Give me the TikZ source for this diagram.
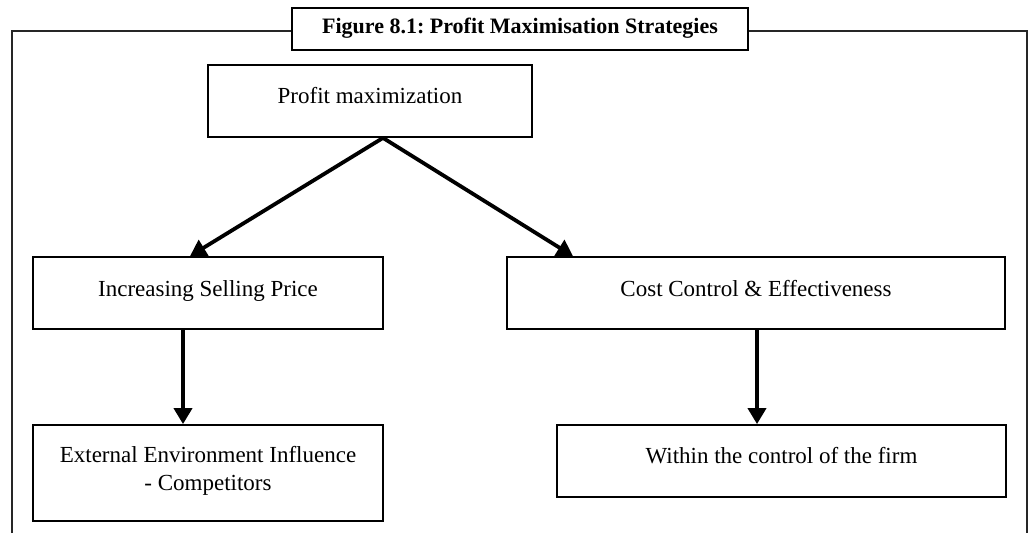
\documentclass[tikz,border=0pt]{standalone}
\usepackage{fontspec}
\setmainfont{Liberation Serif}
\usetikzlibrary{arrows.meta}
\frenchspacing
\begin{document}
\begin{tikzpicture}[x=1pt,y=-1pt,
  box/.style={draw=black, line width=1.8pt, fill=white, inner sep=0pt},
  txt/.style={font=\fontsize{23}{28}\selectfont, inner sep=0pt, align=center},
  arr/.style={line width=3.8pt, -{Triangle[length=16pt,width=18pt]}},
  frame/.style={line width=2pt, draw=black!85}]
\useasboundingbox (0,0) rectangle (1030,533);
\draw[frame] (12,533) -- (12,31) -- (1027,31) -- (1027,533);
\node[box, minimum width=456pt, minimum height=42pt] (title) at (520,29) {};
\node[txt, font=\bfseries\fontsize{22}{26}\selectfont, anchor=base] (titlet) at (520,33) {Figure 8.1: Profit Maximisation Strategies};
\node[box, minimum width=324pt, minimum height=72pt] (prof) at (370,101) {};
\node[txt, anchor=base] (proft) at (370,103) {Profit maximization};
\node[box, minimum width=350pt, minimum height=72pt] (inc) at (208,293) {};
\node[txt, anchor=base] (inct) at (208,296) {Increasing Selling Price};
\node[box, minimum width=498pt, minimum height=72pt] (cost) at (756,293) {};
\node[txt, anchor=base] (costt) at (756,296) {Cost Control \& Effectiveness};
\node[box, minimum width=350pt, minimum height=96pt] (ext) at (208,473) {};
\node[txt, anchor=base] (extt) at (208,490) {External Environment Influence\\- Competitors};
\node[box, minimum width=449pt, minimum height=72pt] (within) at (781.5,461) {};
\node[txt, anchor=base] (withint) at (781.5,463) {Within the control of the firm};
\draw[arr] ([xshift=13pt]prof.south) -- ([xshift=-18pt]inc.north);
\draw[arr] ([xshift=13pt]prof.south) -- ([xshift=-183pt]cost.north);
\draw[arr] ([xshift=-25pt]inc.south) -- ([xshift=-25pt]ext.north);
\draw[arr] ([xshift=1pt]cost.south) -- ([xshift=-24.5pt]within.north);
\end{tikzpicture}
\end{document}
